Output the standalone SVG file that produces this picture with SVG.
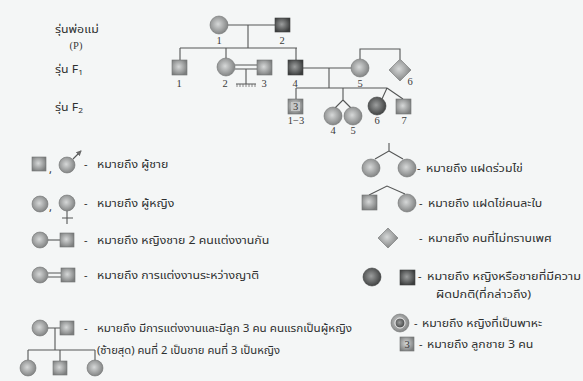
<svg xmlns="http://www.w3.org/2000/svg" width="583" height="381" viewBox="0 0 583 381">
<defs>
<radialGradient id="g" cx="0.45" cy="0.45" r="0.6"><stop offset="0" stop-color="#d6d8d8"/><stop offset="1" stop-color="#7c7e7e"/></radialGradient>
<radialGradient id="gd" cx="0.45" cy="0.45" r="0.6"><stop offset="0" stop-color="#9c9e9e"/><stop offset="1" stop-color="#3a3c3c"/></radialGradient>
<marker id="ar" viewBox="0 0 6 6" refX="5" refY="3" markerWidth="5" markerHeight="5" orient="auto"><path d="M0,0 L6,3 L0,6 z" fill="#6a6a6a"/></marker>
</defs>
<style>
.n{fill:url(#g);stroke:#707272;stroke-width:0.6}
.d{fill:url(#gd);stroke:#404242;stroke-width:0.6}
.l{fill:none;stroke:#555757;stroke-width:1.1}
.t{font-family:"Noto Sans Thai","Noto Sans Thai UI","Loma","Garuda","Tlwg Typo","DejaVu Sans","Noto Sans",sans-serif;font-size:11px;fill:#2e3030}
.num{font-family:"Liberation Serif",serif;font-size:10.5px;fill:#3a3a3a;text-anchor:middle}
</style>
<rect width="583" height="381" fill="#f4f6f6"/>

<g id="gen-labels">
<text class="t" transform="translate(55 33) scale(1.12 1)">รุ่นพ่อแม่</text>
<text class="num" x="76" y="49">(P)</text>
<text class="t" transform="translate(55 73) scale(1.12 1)">รุ่น F<tspan font-size="7.5" dy="2">1</tspan></text>
<text class="t" transform="translate(55 111) scale(1.12 1)">รุ่น F<tspan font-size="7.5" dy="2">2</tspan></text>
</g>

<g id="connectors">
<path class="l" d="M228,25H275M248,25V48M180,48H297M180,48V60M226,48V58M296,48V60"/>
<path class="l" d="M235,65H257M235,69H257M246,69V84M236,84H256"/>
<path d="M237,84v3M240,84v3M243,84v3M246,84v3M249,84v3M252,84v3M255,84v3" stroke="#6a6a6a" stroke-width="0.8"/>
<path class="l" d="M303,68H351M329,68V88M296,88H387M296,88V99M343,88V100L335,108M343,100L351,108M387,88L382,99M387,88L403,99"/>
<path class="l" d="M360,59V49H400V59"/>
</g>

<g id="P1"><circle class="n" cx="219" cy="25" r="9"/><text class="num" x="219" y="44">1</text></g>
<g id="P2"><rect class="d" x="275" y="18" width="15" height="14"/><text class="num" x="282" y="44">2</text></g>
<g id="F1-1"><rect class="n" x="172" y="60" width="15" height="15"/><text class="num" x="179" y="87">1</text></g>
<g id="F1-2"><circle class="n" cx="226" cy="67" r="9"/><text class="num" x="225" y="87">2</text></g>
<g id="F1-3"><rect class="n" x="257" y="60" width="15" height="15"/><text class="num" x="264" y="87">3</text></g>
<g id="F1-4"><rect class="d" x="288" y="60" width="15" height="15"/><text class="num" x="295" y="87">4</text></g>
<g id="F1-5"><circle class="n" cx="360" cy="68" r="9"/><text class="num" x="360" y="87">5</text></g>
<g id="F1-6"><path class="n" d="M400,59L411,70L400,81L389,70Z"/><text class="num" x="410" y="85">6</text></g>
<g id="F2-1-3"><rect class="n" x="288" y="99" width="15" height="15"/><rect x="291" y="102" width="9" height="9" fill="#c4c6c6"/><text class="num" x="295.5" y="110" font-size="9">3</text><text class="num" x="296" y="124">1−3</text></g>
<g id="F2-4"><circle class="n" cx="333" cy="116" r="9"/><text class="num" x="333" y="134">4</text></g>
<g id="F2-5"><circle class="n" cx="353" cy="116" r="9"/><text class="num" x="353" y="134">5</text></g>
<g id="F2-6"><circle class="d" cx="377" cy="106" r="9"/><text class="num" x="377" y="124">6</text></g>
<g id="F2-7"><rect class="n" x="396" y="99" width="15" height="15"/><text class="num" x="404" y="124">7</text></g>

<g id="leg-male">
<rect class="n" x="32" y="157" width="14" height="14"/>
<text class="t" x="49" y="173">,</text>
<circle class="n" cx="67" cy="165" r="8"/>
<path class="l" d="M73,159L81,151" marker-end="url(#ar)"/>
<text class="t" x="84" y="168">-</text>
<text class="t" transform="translate(97 168) scale(1.12 1)">หมายถึง ผู้ชาย</text>
</g>
<g id="leg-female">
<circle class="n" cx="40" cy="204" r="8"/>
<text class="t" x="49" y="211">,</text>
<circle class="n" cx="67" cy="203" r="8"/>
<path class="l" d="M67,211V224M62,218H73"/>
<text class="t" x="84" y="207">-</text>
<text class="t" transform="translate(97 207) scale(1.12 1)">หมายถึง ผู้หญิง</text>
</g>
<g id="leg-marriage">
<circle class="n" cx="40" cy="240" r="8"/>
<path class="l" d="M48,240H60"/>
<rect class="n" x="60" y="233" width="14" height="14"/>
<text class="t" x="84" y="244">-</text>
<text class="t" transform="translate(97 244) scale(1.12 1)">หมายถึง หญิงชาย 2 คนแต่งงานกัน</text>
</g>
<g id="leg-consang">
<circle class="n" cx="40" cy="275" r="8"/>
<path class="l" d="M48,273H61M48,277H61"/>
<rect class="n" x="61" y="268" width="14" height="14"/>
<text class="t" x="84" y="279">-</text>
<text class="t" transform="translate(97 279) scale(1.12 1)">หมายถึง การแต่งงานระหว่างญาติ</text>
</g>
<g id="leg-children">
<circle class="n" cx="40" cy="328" r="8"/>
<path class="l" d="M48,328H60M55,328V350M28,350H95M28,350V360M60,350V361M95,350V360"/>
<rect class="n" x="60" y="321" width="14" height="14"/>
<circle class="n" cx="28" cy="368" r="8"/>
<rect class="n" x="53" y="361" width="14" height="14"/>
<circle class="n" cx="95" cy="368" r="8"/>
<text class="t" x="84" y="332">-</text>
<text class="t" transform="translate(97 332) scale(1.06 1)">หมายถึง มีการแต่งงานและมีลูก 3 คน คนแรกเป็นผู้หญิง</text>
<text class="t" transform="translate(97 354) scale(1.02 1)">(ซ้ายสุด) คนที่ 2 เป็นชาย คนที่ 3 เป็นหญิง</text>
</g>

<g id="leg-mz">
<path class="l" d="M389,143V151L375,159M389,151L403,159"/>
<circle class="n" cx="371" cy="168" r="9"/>
<circle class="n" cx="407" cy="168" r="9"/>
<text class="t" x="417" y="172">-</text>
<text class="t" transform="translate(426 172) scale(1.12 1)">หมายถึง แฝดร่วมไข่</text>
</g>
<g id="leg-dz">
<path class="l" d="M369,195L387,186L405,194"/>
<rect class="n" x="362" y="195" width="15" height="15"/>
<circle class="n" cx="407" cy="203" r="9"/>
<text class="t" x="419" y="207">-</text>
<text class="t" transform="translate(428 207) scale(1.12 1)">หมายถึง แฝดไข่คนละใบ</text>
</g>
<g id="leg-unknown">
<path class="n" d="M388,228L398,238L388,248L378,238Z"/>
<text class="t" x="419" y="242">-</text>
<text class="t" transform="translate(428 242) scale(1.12 1)">หมายถึง คนที่ไม่ทราบเพศ</text>
</g>
<g id="leg-affected">
<circle class="d" cx="372" cy="277" r="9"/>
<rect class="d" x="400" y="270" width="15" height="15"/>
<text class="t" x="418" y="280">-</text>
<text class="t" transform="translate(427 280) scale(1.15 1)">หมายถึง หญิงหรือชายที่มีความ</text>
<text class="t" transform="translate(436 298) scale(1.15 1)">ผิดปกติ(ที่กล่าวถึง)</text>
</g>
<g id="leg-carrier">
<circle class="n" cx="400" cy="323" r="9"/>
<circle cx="400" cy="323" r="5" fill="url(#gd)" stroke="#f0f0f0" stroke-width="1"/>
<text class="t" x="414" y="327">-</text>
<text class="t" transform="translate(422 327) scale(1.12 1)">หมายถึง หญิงที่เป็นพาหะ</text>
</g>
<g id="leg-3sons">
<rect class="n" x="400" y="337" width="14" height="14"/>
<text class="num" x="407" y="348" font-size="9.5">3</text>
<text class="t" x="419" y="348">-</text>
<text class="t" transform="translate(427 348) scale(1.12 1)">หมายถึง ลูกชาย 3 คน</text>
</g>
</svg>
